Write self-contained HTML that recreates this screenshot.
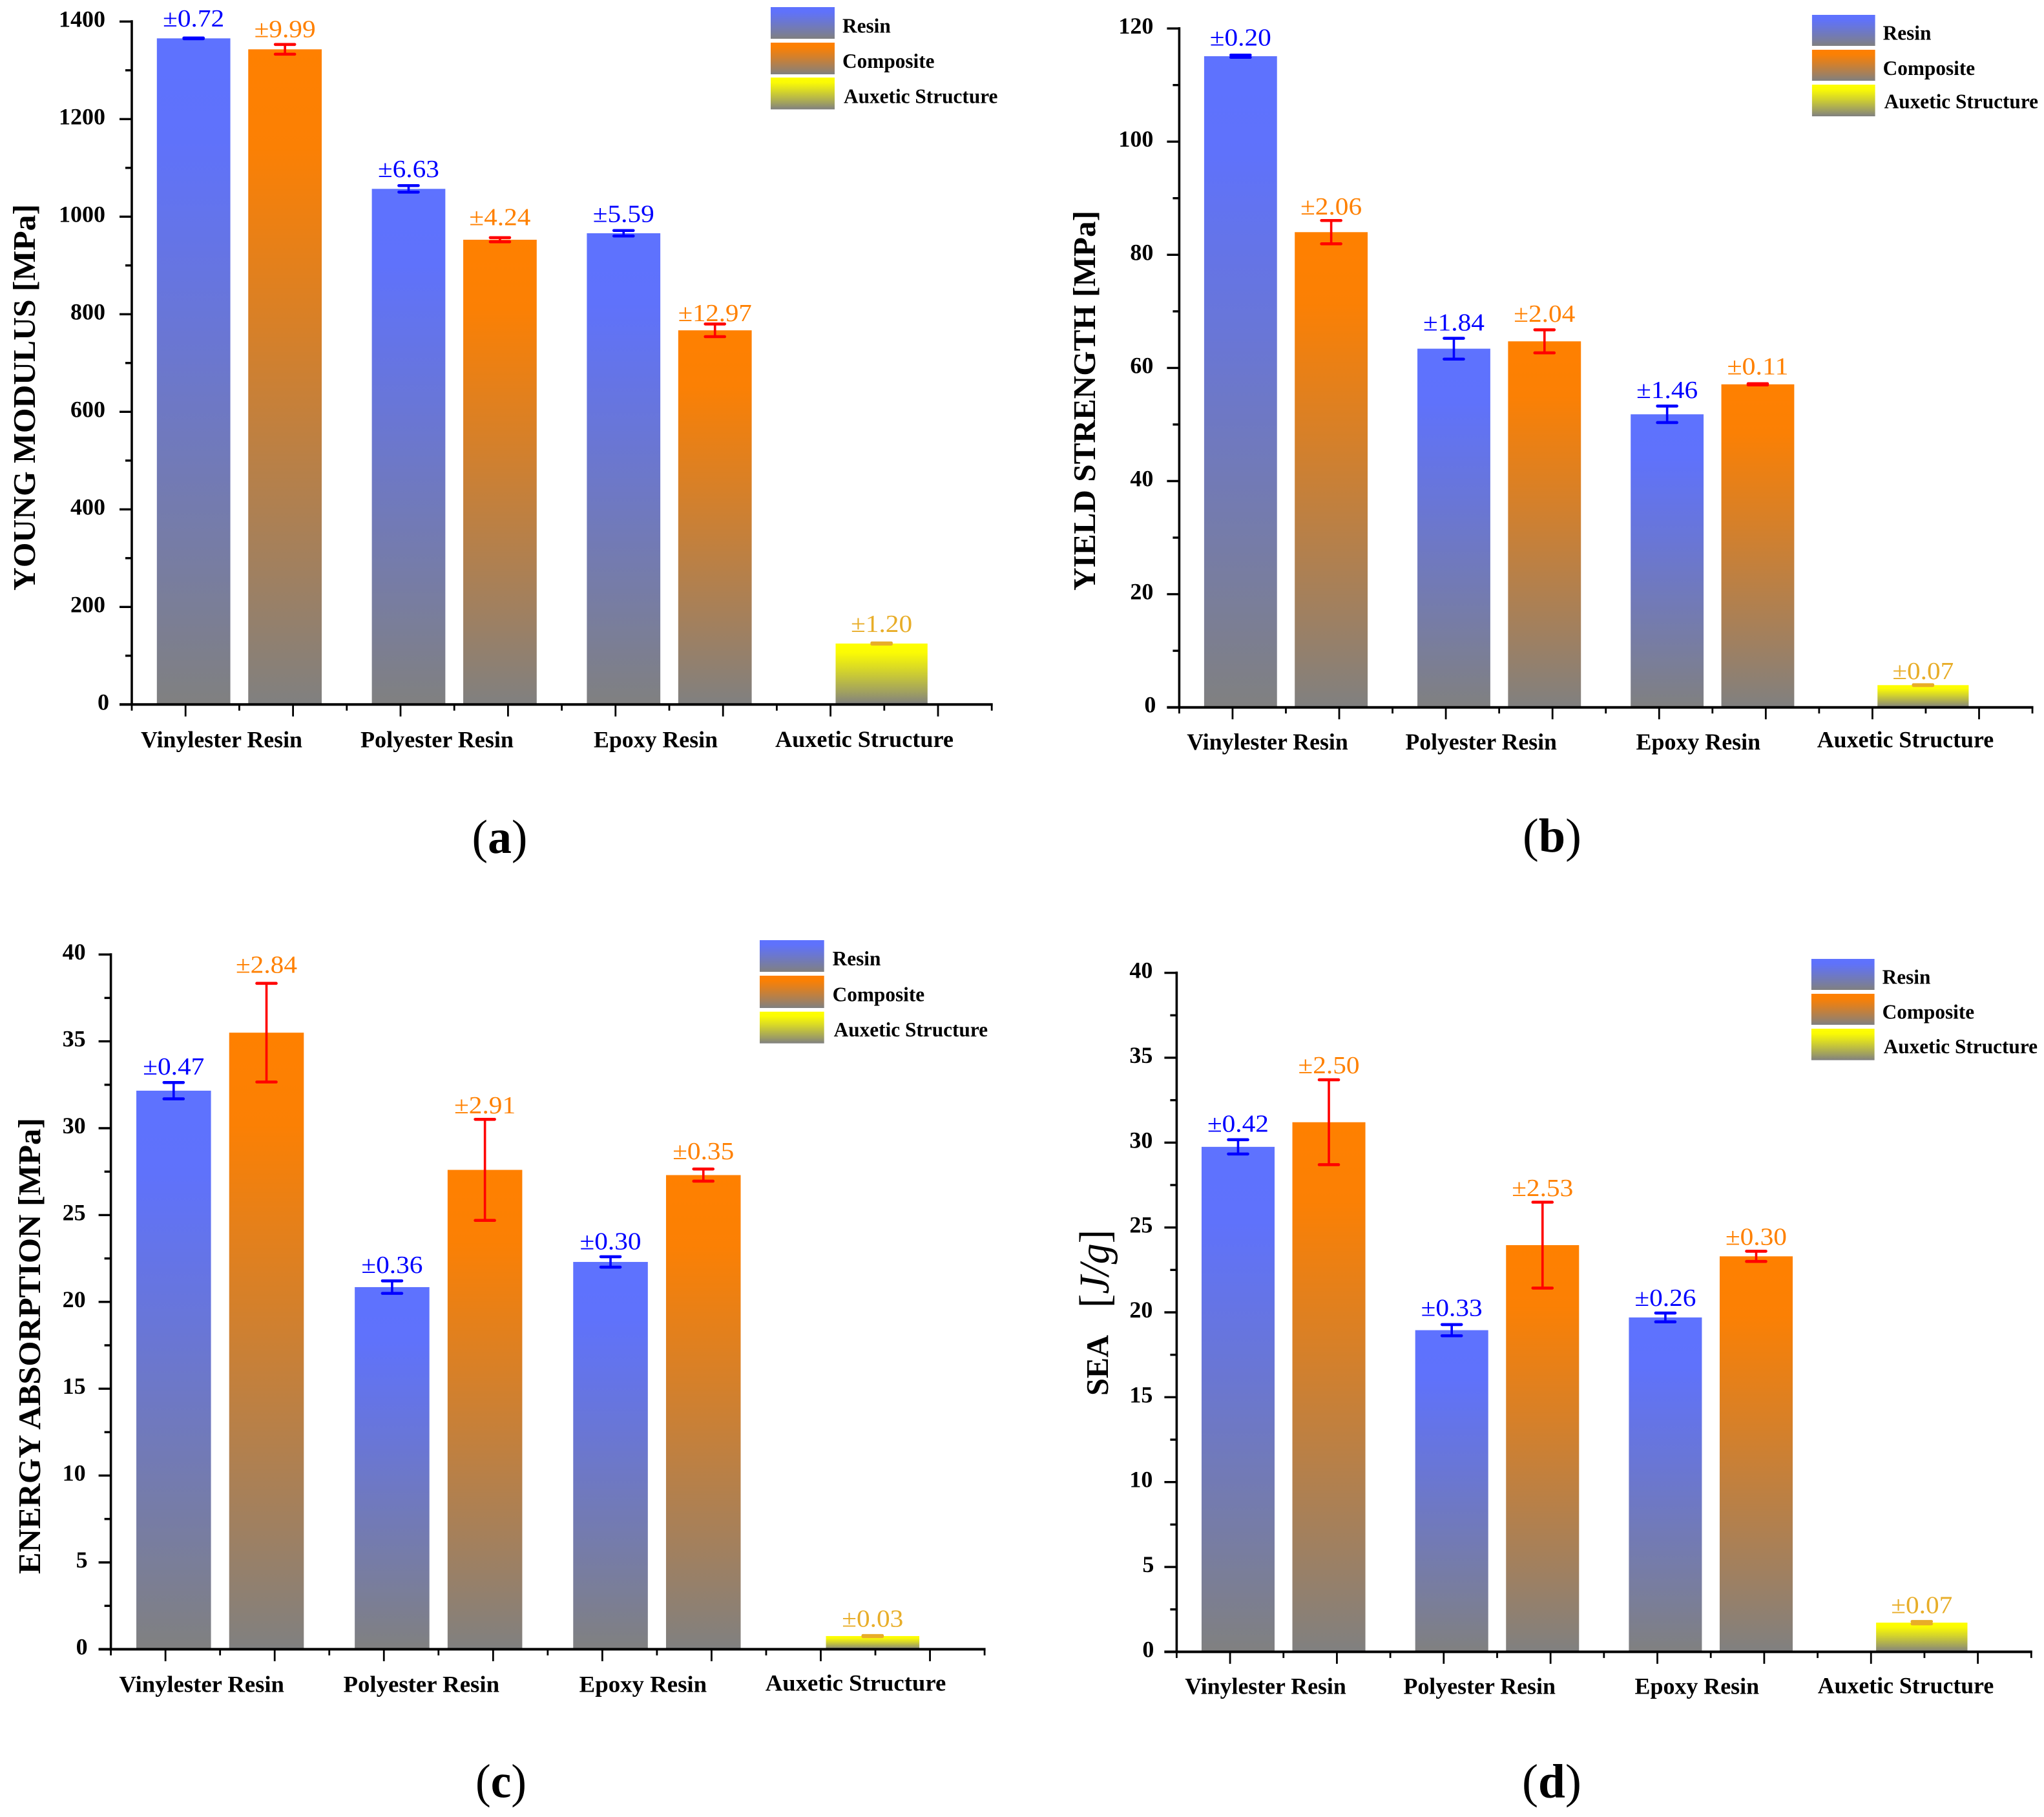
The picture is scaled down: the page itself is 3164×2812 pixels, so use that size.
<!DOCTYPE html>
<html lang="en">
<head>
<meta charset="utf-8">
<title>Mechanical properties of resin, composite and auxetic structure</title>
<style>
html,body{margin:0;padding:0;background:#fff;}
svg{display:block;}
text{font-family:"Liberation Serif","DejaVu Serif",serif;}
</style>
</head>
<body>
<svg id="figure" xmlns="http://www.w3.org/2000/svg" width="3164" height="2812" viewBox="0 0 3164 2812">
<rect width="3164" height="2812" fill="#ffffff"/>
<defs id="defs"></defs>
</svg>
<script>
/* ---------- shared chart data ---------- */
const categories = ["Vinylester Resin", "Polyester Resin", "Epoxy Resin", "Auxetic Structure"];
const seriesNames = ["Resin", "Composite", "Auxetic Structure"];

/* panel (a) */
const youngTicks = [0, 200, 400, 600, 800, 1000, 1200, 1400];
const youngResin = [1365.5, 1057, 966];
const youngResinErr = [0.72, 6.63, 5.59];
const youngComposite = [1343, 952.7, 767];
const youngCompositeErr = [9.99, 4.24, 12.97];
const youngAuxetic = [125];
const youngAuxeticErr = [1.20];

/* panel (b) */
const yieldTicks = [0, 20, 40, 60, 80, 100, 120];
const yieldResin = [115.1, 63.4, 51.8];
const yieldResinErr = [0.20, 1.84, 1.46];
const yieldComposite = [84, 64.7, 57.1];
const yieldCompositeErr = [2.06, 2.04, 0.11];
const yieldAuxetic = [3.93];
const yieldAuxeticErr = [0.07];

/* panel (c) */
const energyTicks = [0, 5, 10, 15, 20, 25, 30, 35, 40];
const energyResin = [32.16, 20.85, 22.3];
const energyResinErr = [0.47, 0.36, 0.30];
const energyComposite = [35.5, 27.6, 27.3];
const energyCompositeErr = [2.84, 2.91, 0.35];
const energyAuxetic = [0.76];
const energyAuxeticErr = [0.03];

/* panel (d) */
const seaTicks = [0, 5, 10, 15, 20, 25, 30, 35, 40];
const seaResin = [29.75, 18.95, 19.7];
const seaResinErr = [0.42, 0.33, 0.26];
const seaComposite = [31.2, 23.96, 23.3];
const seaCompositeErr = [2.50, 2.53, 0.30];
const seaAuxetic = [1.72];
const seaAuxeticErr = [0.07];

/* ---------- helpers ---------- */
const SVGNS = "http://www.w3.org/2000/svg";
const figure = document.getElementById("figure");
const defs = document.getElementById("defs");

function make(tag, attrs, parent, text) {
  const n = document.createElementNS(SVGNS, tag);
  for (const k in attrs) n.setAttribute(k, attrs[k]);
  if (text !== undefined) n.textContent = text;
  parent.appendChild(n);
  return n;
}

function gradient(id, top) {
  const g = make("linearGradient", {id: id, x1: 0, y1: 0, x2: 0, y2: 1}, defs);
  const grey = [128, 128, 128];
  const fracs = [0, 0.15, 0.43, 0.8, 1];
  const mixes = [0, 0.03, 0.32, 0.75, 1];
  fracs.forEach(function (f, i) {
    const c = top.map(function (v, j) { return Math.round(v + (grey[j] - v) * mixes[i]); });
    make("stop", {offset: f, "stop-color": "rgb(" + c.join(",") + ")"}, g);
  });
}
gradient("grad-resin", [94, 114, 255]);
gradient("grad-composite", [255, 128, 0]);
gradient("grad-auxetic", [255, 255, 0]);

const SERIES = {
  resin: {fill: "url(#grad-resin)", err: "#0000ff", label: "#0000ff"},
  composite: {fill: "url(#grad-composite)", err: "#ff0000", label: "#ff8000"},
  auxetic: {fill: "url(#grad-auxetic)", err: "#e8ad28", label: "#e8ad28"}
};

function drawPanel(p) {
  const panel = make("g", {}, figure);
  
  

  const y = function (v) { return p.y0 - v * p.perUnit; };
  const x = function (pos) { return p.x0 + pos * p.step; };

  function bar(series, pos, width, value, err, gap, key) {
    const s = SERIES[series];
    const cx = x(pos);
    const r = make("rect", {x: cx - width * p.step / 2, y: y(value), width: width * p.step, height: p.y0 - y(value), fill: s.fill}, panel);
    
    
    return function drawError() {
      const top = y(value + err), bot = y(value - err);
      const eg = make("g", {stroke: s.err, fill: "none"}, panel);
      
      
      make("line", {x1: cx, x2: cx, y1: top, y2: bot, "stroke-width": 3.6}, eg);
      make("line", {x1: cx - 15, x2: cx + 15, y1: top, y2: top, "stroke-width": 4.6, "stroke-linecap": "round"}, eg);
      make("line", {x1: cx - 15, x2: cx + 15, y1: bot, y2: bot, "stroke-width": 4.6, "stroke-linecap": "round"}, eg);
      const str = "\u00b1" + err.toFixed(2);
      const t = make("text", {x: cx, y: top - gap + 1.5, "text-anchor": "middle", "font-size": 38, fill: s.label, textLength: str.length * 19, lengthAdjust: "spacingAndGlyphs"}, panel, str);
      
      
    };
  }

  const errs = [];
  const groupPos = [2, 6, 10];
  const OFFSET = 0.85, WIDTH = 1.367, AUX_POS = 13.95, AUX_WIDTH = 1.71;
  p.resin.forEach(function (v, i) {
    errs.push(bar("resin", groupPos[i] - OFFSET, WIDTH, v, p.resinErr[i], p.gapResin[i], categories[i].split(" ")[0].toLowerCase()));
    errs.push(bar("composite", groupPos[i] + OFFSET, WIDTH, p.composite[i], p.compositeErr[i], p.gapComposite[i], categories[i].split(" ")[0].toLowerCase()));
  });
  errs.push(bar("auxetic", AUX_POS, AUX_WIDTH, p.auxetic[0], p.auxeticErr[0], p.gapAux, "structure"));

  /* y axis */
  const topTick = p.ticks[p.ticks.length - 1];
  const yAxis = make("line", {x1: p.x0, x2: p.x0, y1: y(topTick) - 2, y2: p.y0, stroke: "#000", "stroke-width": 3.6}, panel);
  
  

  p.ticks.forEach(function (v, i) {
    const tk = make("line", {x1: p.x0 - 19, x2: p.x0, y1: y(v), y2: y(v), stroke: "#000", "stroke-width": 3.4}, panel);
    
    
    const str = String(v);
    const right = p.x0 - (str.length === 1 ? p.labelOffsetOne : p.labelOffset);
    const lb = make("text", {x: right, y: y(v) + 8, "text-anchor": "end", "font-size": 36, "font-weight": 700, fill: "#000"}, panel, str);
    
    
    if (i < p.ticks.length - 1) {
      const mid = (v + p.ticks[i + 1]) / 2;
      const mn = make("line", {x1: p.x0 - 10, x2: p.x0, y1: y(mid), y2: y(mid), stroke: "#000", "stroke-width": 3.4}, panel);
      
      
    }
  });

  /* x axis */
  const xAxis = make("line", {x1: p.x0 - 19, x2: x(16) + 1.5, y1: p.y0, y2: p.y0, stroke: "#000", "stroke-width": 4}, panel);
  
  
  for (let i = 0; i <= 16; i++) {
    const major = i % 2 === 1;
    const tk = make("line", {x1: x(i), x2: x(i), y1: p.y0, y2: p.y0 + (major ? 18.5 : 9.5), stroke: "#000", "stroke-width": 2.8}, panel);
    
    
  }

  categories.forEach(function (c, i) {
    const t = make("text", {x: p.catX[i], y: p.catY[i], "text-anchor": "middle", "font-size": 36, "font-weight": 700, fill: "#000", textLength: p.catW[i], lengthAdjust: "spacingAndGlyphs"}, panel, c);
    
    
  });

  errs.forEach(function (f) { f(); });

  /* y title */
  if (p.title) {
    const t = make("text", {x: p.titleX, y: p.titleBottom, transform: "rotate(-90 " + p.titleX + " " + p.titleBottom + ")", "font-size": 49, "font-weight": 700, fill: "#000", textLength: p.titleLen, lengthAdjust: "spacingAndGlyphs"}, panel, p.title);
    
    
  } else {
    const gT = make("g", {}, panel);
    
    
    make("text", {x: 1715, y: 2160, transform: "rotate(-90 1715 2160)", "font-size": 49, "font-weight": 700, fill: "#000", textLength: 94, lengthAdjust: "spacingAndGlyphs"}, gT, "SEA");
    const u = make("text", {x: 1716, y: 2024, transform: "rotate(-90 1716 2024)", "font-size": 66, fill: "#000", textLength: 121, lengthAdjust: "spacingAndGlyphs"}, gT);
    make("tspan", {}, u, "[");
    make("tspan", {"font-style": "italic"}, u, "J/g");
    make("tspan", {}, u, "]");
  }

  /* legend */
  const lg = make("g", {}, panel);
  
  
  const grads = ["url(#grad-resin)", "url(#grad-composite)", "url(#grad-auxetic)"];
  seriesNames.forEach(function (name, i) {
    const e = make("g", {}, lg);
    
    
    make("rect", {x: p.legX, y: p.legTop[i], width: p.legW, height: p.legH[i], fill: grads[i]}, e);
    make("text", {x: p.legTextX + (i === 2 ? 2 : 0), y: p.legBase[i], "font-size": 31.3, "font-weight": 700, fill: "#000"}, e, name);
  });

  /* panel letter */
  const letter = make("text", {x: p.letterX, y: p.letterY, "font-size": 74, fill: "#000", textLength: p.letterW, lengthAdjust: "spacingAndGlyphs"}, panel);
  
  
  make("tspan", {}, letter, "(");
  make("tspan", {"font-weight": 700}, letter, p.id);
  make("tspan", {}, letter, ")");
}

drawPanel({
  id: "a", x0: 204, y0: 1090.3, step: 83.2, perUnit: 0.755,
  ticks: youngTicks, resin: youngResin, resinErr: youngResinErr,
  composite: youngComposite, compositeErr: youngCompositeErr,
  auxetic: youngAuxetic, auxeticErr: youngAuxeticErr,
  gapResin: [19.5, 14.6, 14.7], gapComposite: [12.8, 20.8, 6], gapAux: 18.7,
  labelOffset: 41, labelOffsetOne: 35,
  catX: [343, 676.5, 1015, 1338], catY: [1156.7, 1156.7, 1156.7, 1156], catW: [250, 237, 192, 276],
  title: "YOUNG MODULUS [MPa]", titleX: 54, titleBottom: 914, titleLen: 598,
  legX: 1193, legW: 99, legTop: [11, 66, 120], legH: [49, 49, 49.3], legTextX: 1304, legBase: [50.7, 105, 159.3],
  letterX: 730.5, letterY: 1320, letterW: 86
});

drawPanel({
  id: "b", x0: 1825.4, y0: 1094.7, step: 82.54, perUnit: 8.755,
  ticks: yieldTicks, resin: yieldResin, resinErr: yieldResinErr,
  composite: yieldComposite, compositeErr: yieldCompositeErr,
  auxetic: yieldAuxetic, auxeticErr: yieldAuxeticErr,
  gapResin: [16, 13.5, 13.9], gapComposite: [10.5, 14, 15.8], gapAux: 10.4,
  labelOffset: 40, labelOffsetOne: 36,
  catX: [1962, 2292.7, 2628.8, 2949.5], catY: [1160, 1160, 1160, 1156.7], catW: [249.5, 234.5, 192.5, 273.5],
  title: "YIELD STRENGTH [MPa]", titleX: 1695, titleBottom: 914, titleLen: 588,
  legX: 2804.9, legW: 97.7, legTop: [23, 77, 131], legH: [48, 48, 49], legTextX: 2914.6, legBase: [61.7, 116, 167.7],
  letterX: 2357, letterY: 1318, letterW: 91
});

drawPanel({
  id: "c", x0: 171.6, y0: 2552.4, step: 84.53, perUnit: 26.88,
  ticks: energyTicks, resin: energyResin, resinErr: energyResinErr,
  composite: energyComposite, compositeErr: energyCompositeErr,
  auxetic: energyAuxetic, auxeticErr: energyAuxeticErr,
  gapResin: [13.6, 14, 13], gapComposite: [17.8, 10.6, 16.7], gapAux: 15.3,
  labelOffset: 39, labelOffsetOne: 36,
  catX: [312.2, 652.3, 995.4, 1324.5], catY: [2618.3, 2618.3, 2618.3, 2616.7], catW: [255.5, 241.5, 197.5, 279.5],
  title: "ENERGY ABSORPTION [MPa]", titleX: 62, titleBottom: 2436, titleLen: 706,
  legX: 1176, legW: 99.7, legTop: [1455, 1510, 1565.7], legH: [49, 50, 49], legTextX: 1288.6, legBase: [1494, 1549.3, 1604],
  letterX: 736, letterY: 2781.7, letterW: 79
});

drawPanel({
  id: "d", x0: 1821.4, y0: 2556.4, step: 82.68, perUnit: 26.27,
  ticks: seaTicks, resin: seaResin, resinErr: seaResinErr,
  composite: seaComposite, compositeErr: seaCompositeErr,
  auxetic: seaAuxetic, auxeticErr: seaAuxeticErr,
  gapResin: [13.8, 14.9, 12.5], gapComposite: [11.7, 11.2, 11.4], gapAux: 14.4,
  labelOffset: 37, labelOffsetOne: 35,
  catX: [1959, 2290.2, 2626.8, 2950], catY: [2621.7, 2621.7, 2621.7, 2620.7], catW: [249.5, 235.5, 192.5, 272.5],
  title: null,
  legX: 2803.9, legW: 97.7, legTop: [1484, 1538, 1592], legH: [48, 48, 48.7], legTextX: 2913.6, legBase: [1522.7, 1576.7, 1630],
  letterX: 2356, letterY: 2781.7, letterW: 92
});
</script>
</body>
</html>
